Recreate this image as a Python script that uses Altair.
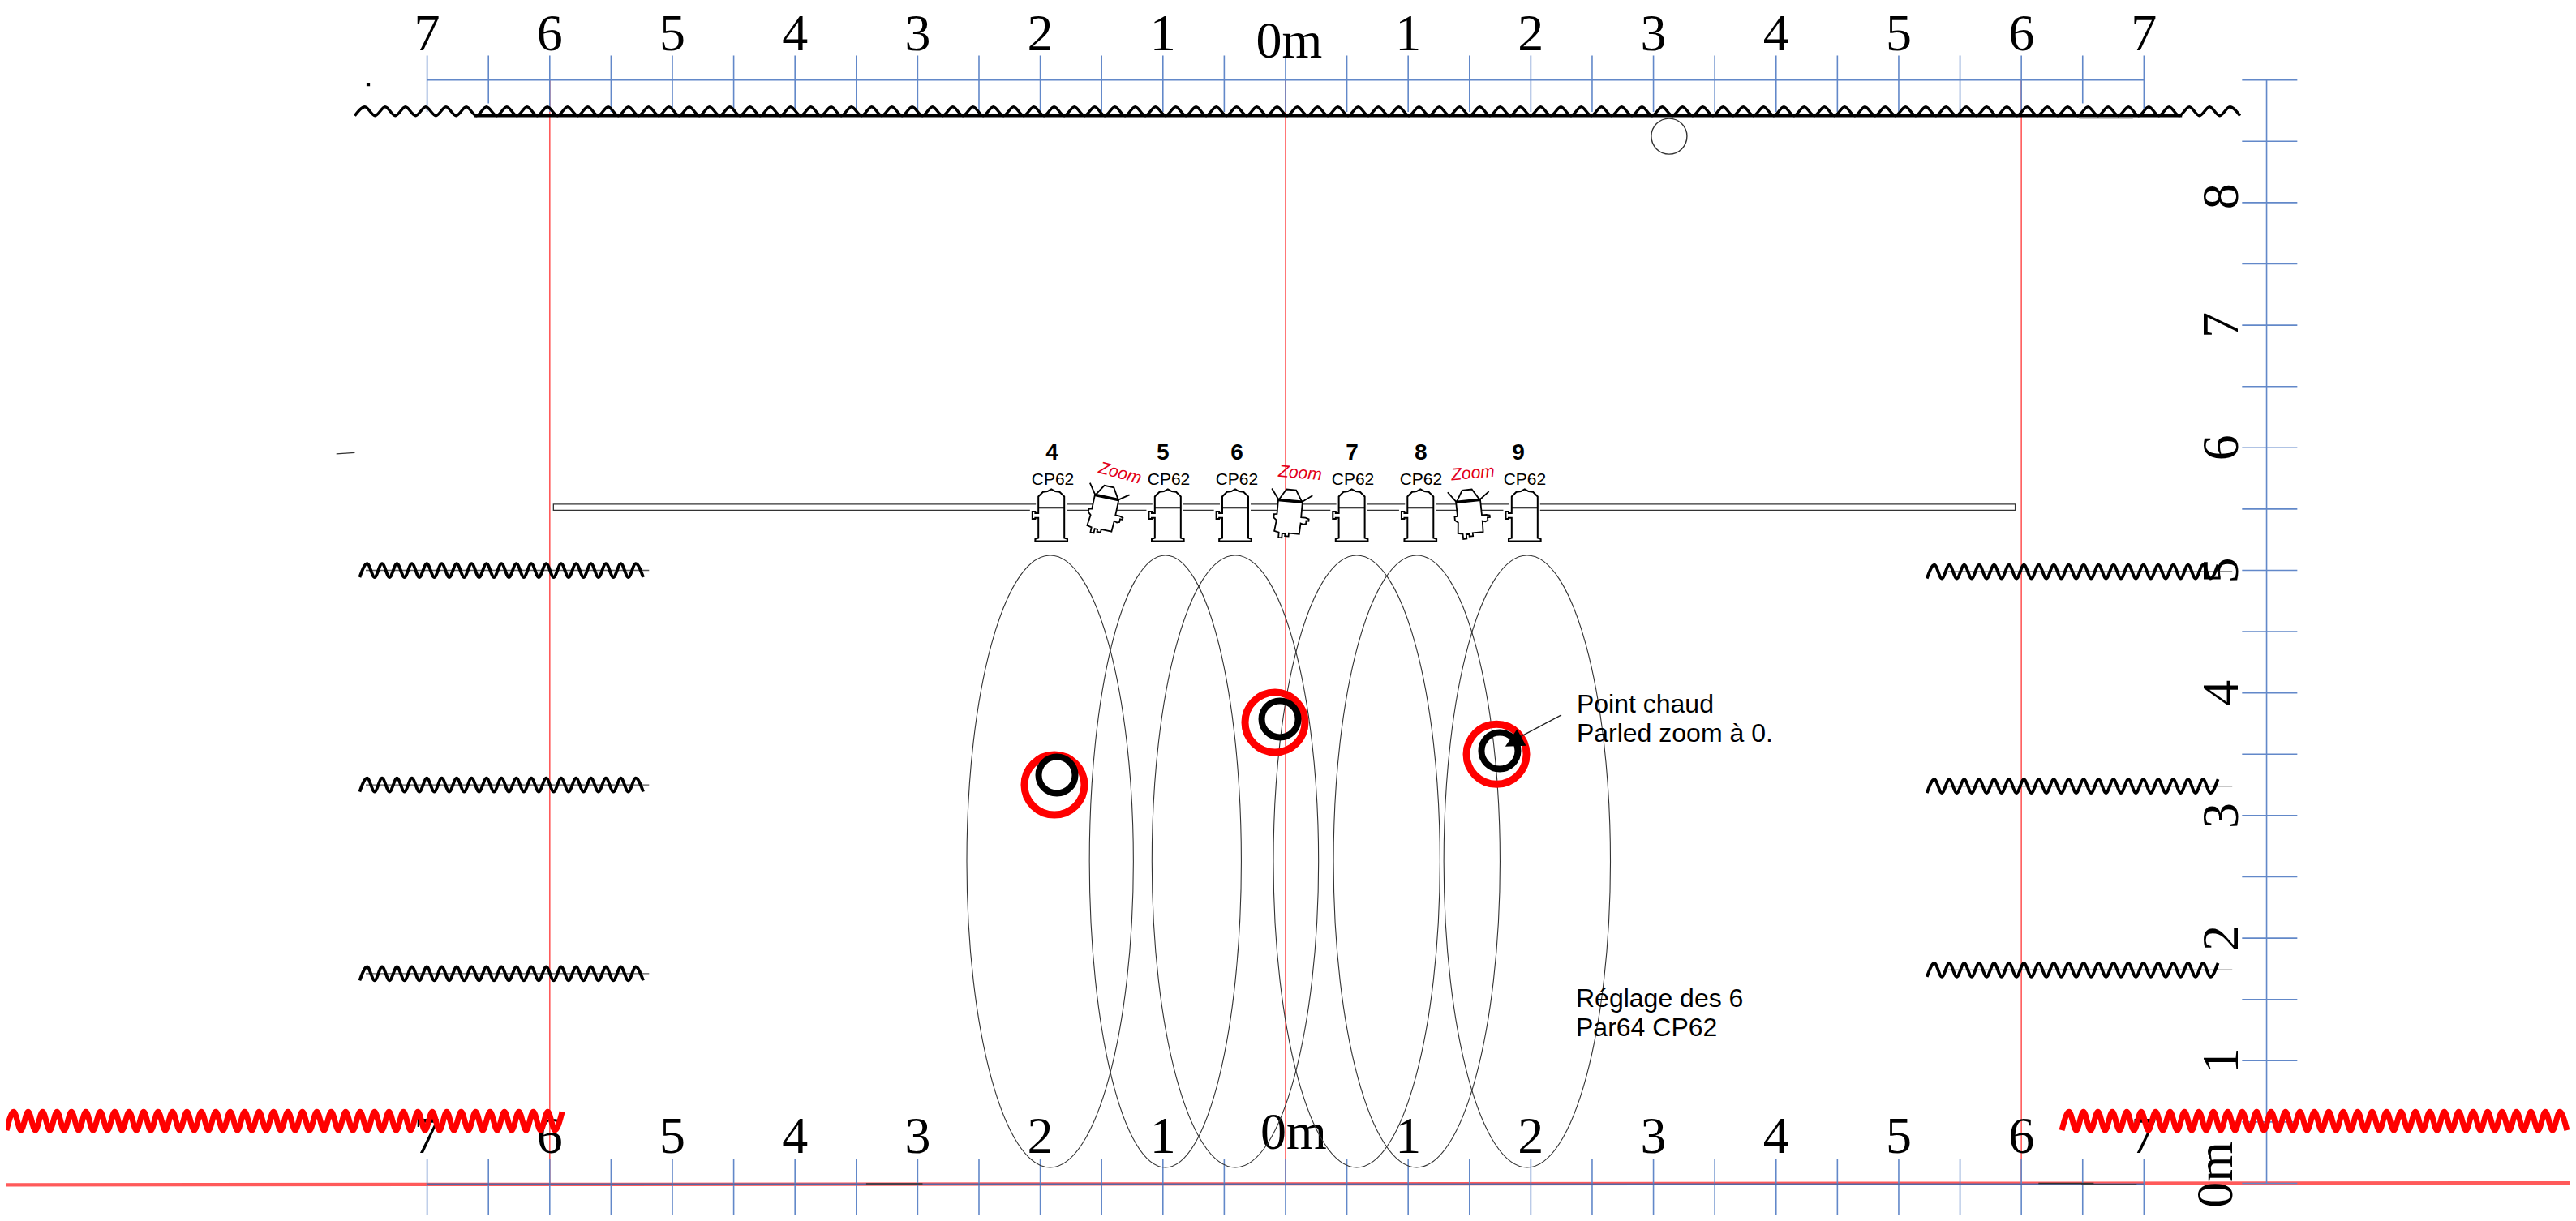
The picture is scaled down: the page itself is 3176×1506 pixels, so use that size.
import altair as alt
import pandas as pd

W, H = 3160, 1490
X = alt.Scale(domain=[-10.43, 10.47], nice=False, zero=False)
Y = alt.Scale(domain=[-0.2546, 9.6], nice=False, zero=False)
BLUE, RED = "#6288c9", "#ff5a5a"

# rulers, metres
half_steps = [i / 2 for i in range(-14, 15)]
ruler_top_low = {-6.5: 8.81, 6.5: 8.81}
side_steps = [i / 2 for i in range(0, 19)]
top_digits = ["7", "6", "5", "4", "3", "2", "1", "1", "2", "3", "4", "5", "6", "7"]
digit_x = [-7, -6, -5, -4, -3, -2, -1, 1, 2, 3, 4, 5, 6, 7]
side_digits = ["8", "7", "6", "5", "4", "3", "2", "1"]
side_y = [8.05, 7, 6, 5, 4, 3, 2, 1]
red_x = [-6, 0, 6]

# fixtures
par_x = [-1.91, -0.96, -0.41, 0.54, 1.10, 1.95]
par_y = [5.45] * 6
zoom_x = [-1.48, 0.03, 1.50]
zoom_y = [5.49, 5.46, 5.46]
zoom_angle = [12, 5, -6]
num_text = ["4", "5", "6", "7", "8", "9"]
num_x = [-1.905, -1.0, -0.397, 0.542, 1.104, 1.898]
cp_x = [-1.898, -0.952, -0.397, 0.549, 1.104, 1.951]
ztext_x = [-1.35, 0.119, 1.528]
ztext_angle = [15, 5, -5]

# beams
ellipse_x = [-1.92, -0.41, 0.58, 1.07, 1.97]
narrow_ellipse_x = [-0.98]
red_ring = [(-1.885, 3.25), (-0.086, 3.76), (1.72, 3.50)]
black_ring = [(-1.865, 3.33), (-0.046, 3.787), (1.746, 3.528)]

PAR = ("M0,-1L.15,-.92L.32,-.9L.5,-.72L.5,.88L.62,.92L.62,1L-.62,1L-.62,.92L-.5,.88L-.5,.1L-.62,.1L-.62,.14"
       "L-.73,.14L-.73,-.14L-.62,-.14L-.62,-.08L-.5,-.08L-.5,-.72L-.32,-.9L-.15,-.92ZM-.5,-.29L.5,-.29")
ZOOM = ("M-.5,-.54L.5,-.54L.5,.1L.68,.1L.82,.14L.82,.22L.72,.22L.72,.34L.62,.38L.5,.34L.48,.79L.05,.79L.05,.92"
        "L-.1,.92L-.1,.82L-.22,.82L-.22,1L-.36,1L-.36,.79L-.55,.75L-.5,.3L-.62,.2L-.62,.06L-.5,.04Z"
        "M-.48,-.54L-.2,-1L.2,-1L.48,-.54M-.48,-.54L-.8,-.98M.48,-.54L.89,-.84")
BEAM = "M-.52,-.6L.52,-.6L.52,-.48L-.52,-.48Z"
ELLIPSE = ("M0,-1C.15,-1 .272,-.552 .272,0C.272,.552 .15,1 0,1C-.15,1 -.272,.552 -.272,0"
           "C-.272,-.552 -.15,-1 0,-1Z")
NARROW_ELLIPSE = ("M0,-1C.137,-1 .248,-.552 .248,0C.248,.552 .137,1 0,1C-.137,1 -.248,.552 -.248,0"
                  "C-.248,-.552 -.137,-1 0,-1Z")
HEAD = "M0,-1L-1,1L1,1Z"


def ex(f="x"):
    return alt.X(f + ":Q", scale=X, axis=None)


def ey(f="y"):
    return alt.Y(f + ":Q", scale=Y, axis=None)


def segs(rows, color, width, opacity=1.0):
    df = pd.DataFrame(rows, columns=["x", "y", "x2", "y2"])
    return alt.Chart(df).mark_rule(color=color, strokeWidth=width, opacity=opacity).encode(
        x=ex(), y=ey(), x2="x2:Q", y2="y2:Q")


def spring(x0, x1, y, period, amp, color, width):
    """Crests and troughs of a drawn cable symbol, joined as one smooth stroke."""
    rows, k, x = [], 0, x0
    while x <= x1:
        rows.append({"x": x, "y": y + (amp if k % 2 else -amp)})
        x += period / 2
        k += 1
    return alt.Chart(pd.DataFrame(rows)).mark_line(
        color=color, strokeWidth=width, interpolate="monotone").encode(x=ex(), y=ey())


def points(xs, ys, shape, size, angle=None, **kw):
    df = pd.DataFrame({"x": xs, "y": ys})
    enc = dict(x=ex(), y=ey())
    if angle is not None:
        df["a"] = angle
        enc["angle"] = alt.Angle("a:Q", scale=None)
    return alt.Chart(df).mark_point(shape=shape, size=size, opacity=1, **kw).encode(**enc)


def texts(labels, xs, ys, font, size, angle=None, **kw):
    df = pd.DataFrame({"x": xs, "y": ys, "t": labels})
    enc = dict(x=ex(), y=ey(), text="t:N")
    if angle is not None:
        df["a"] = angle
        enc["angle"] = alt.Angle("a:Q", scale=None)
    return alt.Chart(df).mark_text(font=font, fontSize=size, **kw).encode(**enc)


SERIF, SANS = "Liberation Serif", "Liberation Sans"
layers = []

# baseline and plumb lines
layers.append(segs([[-10.43, -0.012, 10.47, 0.003]], RED, 4.2))
layers.append(segs([[x, 9.0, x, -0.01] for x in red_x], RED, 1.6))

# rulers
top_rows = [[x, 9.2, x, ruler_top_low.get(x, 8.74)] for x in half_steps]
layers.append(segs(top_rows, BLUE, 1.6))
layers.append(segs([[-7, 9.0, 7, 9.0]], BLUE, 1.6))
layers.append(segs([[x, 0.2, x, -0.2546] for x in half_steps], BLUE, 1.6))
layers.append(segs([[-7, -0.005, 7, -0.005]], "#5567a5", 1.4))
layers.append(segs([[8, 0, 8, 9]], BLUE, 1.6))
layers.append(segs([[7.8, y, 8.25, y] for y in side_steps], BLUE, 1.6))

# ruler numbers
layers.append(texts(top_digits, digit_x, [9.243] * 14, SERIF, 64, align="center", baseline="alphabetic"))
layers.append(texts(["0m"], [0.03], [9.185], SERIF, 64, align="center", baseline="alphabetic"))
layers.append(texts(top_digits, digit_x, [0.251] * 14, SERIF, 64, align="center", baseline="alphabetic"))
layers.append(texts(["0m"], [0.066], [0.281], SERIF, 64, align="center", baseline="alphabetic"))
layers.append(texts(side_digits, [7.764] * 8, side_y, SERIF, 64, angle=[270] * 8, align="center", baseline="alphabetic"))
layers.append(texts(["0m"], [7.72], [0.07], SERIF, 64, angle=[270], align="center", baseline="alphabetic"))

# top wire and stage edge
layers.append(spring(-7.59, 7.82, 8.745, 0.1653, 0.036, "#000000", 3.5))
layers.append(segs([[-6.62, 8.71, 7.31, 8.71]], "#000000", 4))
layers.append(segs([[6.47, 8.69, 6.91, 8.69]], "#444444", 1.4))
layers.append(segs([[6.14, 0.0, 6.59, 0.0], [6.49, -0.01, 6.94, -0.01], [-3.42, -0.003, -2.96, -0.003]], "#333333", 1.6))
layers.append(points([3.128], [8.541], "circle", 1936, stroke="#333333", strokeWidth=1.4, filled=False))
layers.append(segs([[-7.74, 5.95, -7.59, 5.96]], "#333333", 1.4))
layers.append(points([-7.48], [8.965], "square", 5, fill="#000000", stroke="#000000", filled=True))

# side cables
for y in [5.00, 3.25, 1.71]:
    layers.append(segs([[-7.5, y, -5.19, y]], "#555555", 1.3))
    layers.append(spring(-7.55, -5.18, y, 0.1217, 0.056, "#000000", 3.8))
for y in [4.99, 3.24, 1.74]:
    layers.append(segs([[5.4, y, 7.72, y]], "#222222", 1.1))
    layers.append(spring(5.23, 7.62, y, 0.1217, 0.056, "#000000", 3.8))

# red cables
layers.append(spring(-10.43, -5.86, 0.508, 0.1177, 0.075, "#ff0000", 7))
layers.append(spring(6.33, 10.47, 0.508, 0.1177, 0.075, "#ff0000", 7))

# beams
layers.append(points(ellipse_x, [2.626] * 5, ELLIPSE, 570025, stroke="#333333", strokeWidth=1.1, filled=False))
layers.append(points(narrow_ellipse_x, [2.626], NARROW_ELLIPSE, 570025, stroke="#333333", strokeWidth=1.1, filled=False))

# pipe
layers.append(alt.Chart(pd.DataFrame({"x": [-5.97], "x2": [5.95], "y": [5.54], "y2": [5.49]}))
              .mark_rect(fill="#ffffff", stroke="#333333", strokeWidth=1.3)
              .encode(x=ex(), x2="x2:Q", y=ey(), y2="y2:Q"))

# fixtures
layers.append(points(par_x, par_y, PAR, 4096, fill="#ffffff", stroke="#ffffff", strokeWidth=6, filled=True))
layers.append(points(par_x, par_y, PAR, 4096, fill="#ffffff", stroke="#000000", strokeWidth=2, filled=True))
layers.append(points(zoom_x, zoom_y, ZOOM, 3600, angle=zoom_angle, fill="#ffffff", stroke="#000000", strokeWidth=1.8, filled=True))
layers.append(points(zoom_x, zoom_y, BEAM, 3600, angle=zoom_angle, fill="#000000", filled=True))

layers.append(texts(num_text, num_x, [5.90] * 6, SANS, 28, align="center", baseline="alphabetic", fontWeight="bold", color="#000000"))
layers.append(texts(["CP62"] * 6, cp_x, [5.70] * 6, SANS, 21, align="center", baseline="alphabetic", color="#000000"))
layers.append(texts(["Zoom"] * 3, ztext_x, [5.79] * 3, SANS, 21, angle=ztext_angle, align="center", baseline="middle", fontStyle="italic", color="#e2001a"))

# hot spots
layers.append(points([p[0] for p in red_ring], [p[1] for p in red_ring], "circle", 5476, stroke="#ff0000", strokeWidth=9, filled=False))
layers.append(points([p[0] for p in black_ring], [p[1] for p in black_ring], "circle", 2025, stroke="#000000", strokeWidth=8, filled=False))
layers.append(segs([[2.249, 3.82, 1.872, 3.62]], "#222222", 1.3))
layers.append(points([1.858], [3.60], HEAD, 529, angle=[241], fill="#000000", filled=True))

# notes
layers.append(texts(["Point chaud", "Parled zoom à 0."], [2.374, 2.374], [3.84, 3.60], SANS, 32, align="left", baseline="alphabetic", color="#000000"))
layers.append(texts(["Réglage des 6", "Par64 CP62"], [2.368, 2.368], [1.438, 1.20], SANS, 32, align="left", baseline="alphabetic", color="#000000"))

chart = alt.layer(*layers).properties(
    width=W, height=H, padding=0, background="#ffffff",
    autosize=alt.AutoSizeParams(type="none", contains="padding"),
).configure_view(stroke=None)
chart.save("out.html", embed_options={"renderer": "svg", "actions": False})
